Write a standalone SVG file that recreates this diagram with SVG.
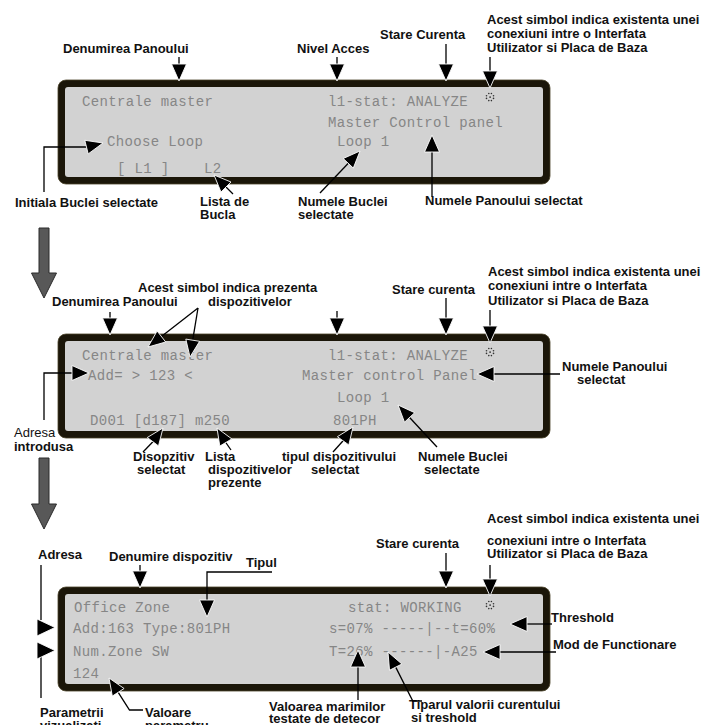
<svg xmlns="http://www.w3.org/2000/svg" xmlns:xlink="http://www.w3.org/1999/xlink" width="705" height="725" viewBox="0 0 705 725">
<style>
.lbl{font-family:"Liberation Sans",Arial,sans-serif;font-weight:bold;font-size:13px;fill:#111}
.reg{font-weight:normal}
.lcd{font-family:"Liberation Mono","DejaVu Sans Mono",monospace;font-size:14px;fill:#868686;letter-spacing:0.35px}
.frame{fill:#1b1609;stroke:#4a4228;stroke-width:0.8}
.screen{fill:#d2d2d2}
.ln{stroke:#000;stroke-width:1.3;fill:none}
.hd{fill:#000;stroke:#fff;stroke-width:0.9;stroke-linejoin:miter}
.big{fill:#585858;stroke:#2b2b2b;stroke-width:1}
.dot{fill:#333}
</style>
<defs>
<g id="sym">
<circle class="dot" cx="-1.2" cy="-3.5" r="0.8"/><circle class="dot" cx="1.4" cy="-3.5" r="0.8"/>
<circle class="dot" cx="-3.5" cy="-1.2" r="0.8"/><circle class="dot" cx="3.5" cy="-1.2" r="0.8"/>
<circle class="dot" cx="-3.5" cy="1.4" r="0.8"/><circle class="dot" cx="3.5" cy="1.4" r="0.8"/>
<circle class="dot" cx="-1.2" cy="3.6" r="0.8"/><circle class="dot" cx="1.4" cy="3.6" r="0.8"/>
<circle class="dot" cx="0.1" cy="0.1" r="0.9"/>
</g>
</defs>
<rect width="705" height="725" fill="#fff"/>

<!-- Panel 1 -->
<g id="panel1">
<rect class="frame" x="58" y="80" width="492" height="104" rx="8"/>
<rect class="screen" x="65" y="87" width="478" height="90" rx="3"/>
<text class="lcd" x="82" y="105.5">Centrale master</text>
<text class="lcd" x="328" y="105.5">l1-stat: ANALYZE</text>
<text class="lcd" x="328" y="126.5">Master Control panel</text>
<text class="lcd" x="107" y="146">Choose Loop</text>
<text class="lcd" x="337" y="146">Loop 1</text>
<text class="lcd" x="117" y="173">[ L1 ]</text>
<text class="lcd" x="204" y="173">L2</text>
<use xlink:href="#sym" x="490" y="97"/>
</g>

<!-- Panel 2 -->
<g id="panel2">
<rect class="frame" x="58" y="334" width="492" height="104" rx="8"/>
<rect class="screen" x="65" y="341" width="478" height="90" rx="3"/>
<text class="lcd" x="82" y="359.5">Centrale master</text>
<text class="lcd" x="328" y="359.5">l1-stat: ANALYZE</text>
<text class="lcd" x="88" y="379.5">Add= &gt; 123 &lt;</text>
<text class="lcd" x="302" y="379.5">Master control Panel</text>
<text class="lcd" x="337" y="402">Loop 1</text>
<text class="lcd" x="90" y="424.5">D001 [d187] m250</text>
<text class="lcd" x="333" y="424.5">801PH</text>
<use xlink:href="#sym" x="490" y="352"/>
</g>

<!-- Panel 3 -->
<g id="panel3">
<rect class="frame" x="58" y="587" width="492" height="104" rx="8"/>
<rect class="screen" x="65" y="594" width="478" height="90" rx="3"/>
<text class="lcd" x="74" y="611.5">Office Zone</text>
<text class="lcd" x="348" y="611.5">stat: WORKING</text>
<text class="lcd" x="73" y="632.5">Add:163 Type:801PH</text>
<text class="lcd" x="329" y="632.5">s=07% -----|--t=60%</text>
<text class="lcd" x="73" y="656">Num.Zone SW</text>
<text class="lcd" x="329" y="656">T=26% ------|-A25</text>
<text class="lcd" x="73" y="678">124</text>
<use xlink:href="#sym" x="490" y="605"/>
</g>

<!-- Labels panel 1 -->
<g id="lbl-p1-denumirea"><text class="lbl" x="63" y="53">Denumirea Panoului</text></g>
<g id="lbl-p1-nivel"><text class="lbl" x="297" y="53">Nivel Acces</text></g>
<g id="lbl-p1-stare"><text class="lbl" x="380" y="39">Stare Curenta</text></g>
<g id="lbl-p1-simbol"><text class="lbl" x="487" y="24">Acest simbol indica existenta unei</text><text class="lbl" x="487" y="38">conexiuni intre o Interfata</text><text class="lbl" x="487" y="52">Utilizator si Placa de Baza</text></g>
<g id="lbl-p1-initiala"><text class="lbl" x="15" y="207">Initiala Buclei selectate</text></g>
<g id="lbl-p1-lista"><text class="lbl" x="200" y="206">Lista de</text><text class="lbl" x="200" y="219">Bucla</text></g>
<g id="lbl-p1-bucla"><text class="lbl" x="298" y="206">Numele Buclei</text><text class="lbl" x="298" y="219">selectate</text></g>
<g id="lbl-p1-panou"><text class="lbl" x="425" y="205">Numele Panoului selectat</text></g>

<!-- Labels panel 2 -->
<g id="lbl-p2-prezenta"><text class="lbl" x="138" y="292">Acest simbol indica prezenta</text><text class="lbl" x="208" y="306">dispozitivelor</text></g>
<g id="lbl-p2-denumirea"><text class="lbl" x="52" y="306">Denumirea Panoului</text></g>
<g id="lbl-p2-stare"><text class="lbl" x="392" y="294">Stare curenta</text></g>
<g id="lbl-p2-simbol"><text class="lbl" x="488" y="276">Acest simbol indica existenta unei</text><text class="lbl" x="488" y="290">conexiuni intre o Interfata</text><text class="lbl" x="488" y="305">Utilizator si Placa de Baza</text></g>
<g id="lbl-p2-panou"><text class="lbl" x="562" y="371">Numele Panoului</text><text class="lbl" x="577" y="384">selectat</text></g>
<g id="lbl-p2-adresa"><text class="lbl reg" x="14" y="437">Adresa</text><text class="lbl" x="14" y="451">introdusa</text></g>
<g id="lbl-p2-disp"><text class="lbl" x="133" y="461">Disopzitiv</text><text class="lbl" x="137" y="474">selectat</text></g>
<g id="lbl-p2-lista"><text class="lbl" x="205" y="461">Lista</text><text class="lbl" x="208" y="474">dispozitivelor</text><text class="lbl" x="208" y="487">prezente</text></g>
<g id="lbl-p2-tip"><text class="lbl" x="282" y="461">tipul dispozitivului</text><text class="lbl" x="311" y="474">selectat</text></g>
<g id="lbl-p2-bucla"><text class="lbl" x="418" y="461">Numele Buclei</text><text class="lbl" x="424" y="474">selectate</text></g>

<!-- Labels panel 3 -->
<g id="lbl-p3-adresa"><text class="lbl" x="38" y="559">Adresa</text></g>
<g id="lbl-p3-denumire"><text class="lbl" x="109" y="561">Denumire dispozitiv</text></g>
<g id="lbl-p3-tipul"><text class="lbl" x="246" y="567">Tipul</text></g>
<g id="lbl-p3-stare"><text class="lbl" x="376" y="548">Stare curenta</text></g>
<g id="lbl-p3-simbol"><text class="lbl" x="487" y="523">Acest simbol indica existenta unei</text><text class="lbl" x="487" y="545">conexiuni intre o Interfata</text><text class="lbl" x="487" y="558">Utilizator si Placa de Baza</text></g>
<g id="lbl-p3-threshold"><text class="lbl" x="551" y="622">Threshold</text></g>
<g id="lbl-p3-mod"><text class="lbl" x="553" y="649">Mod de Functionare</text></g>
<g id="lbl-p3-param"><text class="lbl" x="40" y="717">Parametrii</text><text class="lbl" x="40" y="730">vizualizati</text></g>
<g id="lbl-p3-valoare"><text class="lbl" x="145" y="717">Valoare</text><text class="lbl" x="145" y="730">parametru</text></g>
<g id="lbl-p3-marimi"><text class="lbl" x="269" y="711">Valoarea marimilor</text><text class="lbl" x="269" y="723">testate de detecor</text></g>
<g id="lbl-p3-tiparul"><text class="lbl" x="409" y="709">Tiparul valorii curentului</text><text class="lbl" x="411" y="722">si treshold</text></g>

<!-- Connectors -->
<g id="connectors">
<polygon class="big" points="39,228 49,228 49,273 56.5,273 44,298 31.5,273 39,273"/>
<polygon class="big" points="39,458 49,458 49,504 56.5,504 44,529 31.5,504 39,504"/>

<line class="ln" x1="179" y1="57" x2="179" y2="65"/><polygon class="hd" points="179,81 171.5,64 186.5,64"/>
<line class="ln" x1="337" y1="57" x2="337" y2="65"/><polygon class="hd" points="337,81 329.5,64 344.5,64"/>
<line class="ln" x1="446" y1="44" x2="446" y2="65"/><polygon class="hd" points="446,81 438.5,64 453.5,64"/>
<line class="ln" x1="490" y1="57" x2="490" y2="72"/><polygon class="hd" points="490,88 482.5,71 497.5,71"/>
<polyline class="ln" points="44,192 44,147 86.5,147"/><polygon class="hd" points="103,143 88.2,153.9 84.8,140.3"/>
<line class="ln" x1="233" y1="194" x2="226" y2="187"/><polygon class="hd" points="214,175 231,182 221,192"/>
<line class="ln" x1="320" y1="193" x2="348.3" y2="163.3"/><polygon class="hd" points="360,151 353.3,168.1 343.2,158.5"/>
<line class="ln" x1="432" y1="197" x2="432" y2="152"/><polygon class="hd" points="432,135 424.5,152 439.5,152"/>

<line class="ln" x1="110" y1="312" x2="110" y2="319"/><polygon class="hd" points="110,335 102.5,318 117.5,318"/>
<line class="ln" x1="337" y1="311" x2="337" y2="319"/><polygon class="hd" points="337,335 329.5,318 344.5,318"/>
<line class="ln" x1="446" y1="298" x2="446" y2="319"/><polygon class="hd" points="446,335 438.5,318 453.5,318"/>
<line class="ln" x1="490" y1="310" x2="490" y2="327"/><polygon class="hd" points="490,343 482.5,326 497.5,326"/>
<line class="ln" x1="198" y1="308" x2="161.4" y2="336.5"/><polygon class="hd" points="148,347 165.7,342 157.1,331"/>
<line class="ln" x1="198" y1="308" x2="192.7" y2="340.2"/><polygon class="hd" points="190,357 199.6,341.3 185.8,339.1"/>
<polyline class="ln" points="44,420 44,373 72,373"/><polygon class="hd" points="89,373 72,365.5 72,380.5"/>
<line class="ln" x1="560" y1="374" x2="494" y2="374"/><polygon class="hd" points="477,374 494,366.5 494,381.5"/>
<line class="ln" x1="143" y1="452" x2="152.9" y2="441.7"/><polygon class="hd" points="163,428 158.5,445.9 147.3,437.5"/>
<line class="ln" x1="231" y1="450" x2="225.8" y2="442.5"/><polygon class="hd" points="217,428 231.8,438.9 219.8,446.1"/>
<line class="ln" x1="333" y1="452" x2="343.1" y2="440.8"/><polygon class="hd" points="353,427 348.8,444.9 337.4,436.7"/>
<line class="ln" x1="437" y1="447" x2="409.6" y2="417.5"/><polygon class="hd" points="398,405 414.7,412.7 404.5,422.2"/>

<line class="ln" x1="41" y1="565" x2="41" y2="620"/><polygon class="hd" points="37,619 37,636 55,627.5"/>
<line class="ln" x1="41" y1="651" x2="41" y2="698"/><polygon class="hd" points="37,642 37,659 55,650.5"/>
<line class="ln" x1="140" y1="565" x2="140" y2="572"/><polygon class="hd" points="140,588 132.5,571 147.5,571"/>
<polyline class="ln" points="272,572 207,572 207,601"/><polygon class="hd" points="207,617 199.5,600 214.5,600"/>
<line class="ln" x1="446" y1="553" x2="446" y2="572"/><polygon class="hd" points="446,588 438.5,571 453.5,571"/>
<line class="ln" x1="490" y1="565" x2="490" y2="580"/><polygon class="hd" points="490,596 482.5,579 497.5,579"/>
<line class="ln" x1="552" y1="624" x2="527" y2="624"/><polygon class="hd" points="510,624 527,616.5 527,631.5"/>
<line class="ln" x1="556" y1="652" x2="500" y2="652"/><polygon class="hd" points="483,652 500,644.5 500,659.5"/>
<polyline class="ln" points="143,710 129.5,710 118.2,692.3"/><polygon class="hd" points="109,678 124.1,688.5 112.3,696.1"/>
<line class="ln" x1="358" y1="700" x2="358" y2="667"/><polygon class="hd" points="358,650 350.5,667 365.5,667"/>
<polyline class="ln" points="422,701 412.8,701 395.7,667.1"/><polygon class="hd" points="388,652 401.9,664 389.5,670.3"/>
</g>
</svg>
